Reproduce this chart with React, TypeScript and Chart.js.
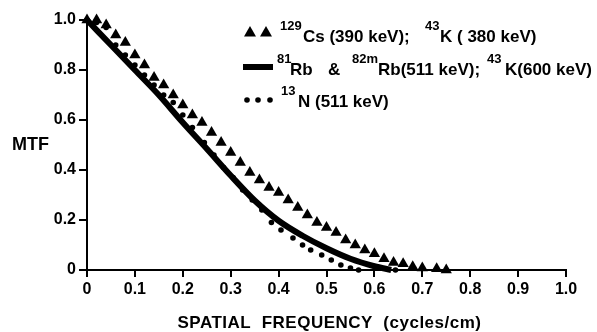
import React, { useEffect, useRef } from 'react';
import { Chart, registerables } from 'chart.js';

Chart.register(...registerables);

// ---- data ----
const xTickLabels = ['0', '0.1', '0.2', '0.3', '0.4', '0.5', '0.6', '0.7', '0.8', '0.9', '1.0'];
const yTickLabels = ['0', '0.2', '0.4', '0.6', '0.8', '1.0'];

// 129Cs (390 keV); 43K (380 keV) — triangles
const csX = [0, 0.02, 0.04, 0.06, 0.08, 0.10, 0.12, 0.14, 0.16, 0.18, 0.20, 0.22, 0.24, 0.26, 0.28, 0.30, 0.32, 0.34, 0.36, 0.38, 0.40, 0.42, 0.44, 0.46, 0.48, 0.50, 0.52, 0.54, 0.56, 0.58, 0.60, 0.62, 0.64, 0.66, 0.68, 0.70, 0.73, 0.75];
const csY = [1.0, 1.0, 0.98, 0.94, 0.91, 0.86, 0.82, 0.77, 0.74, 0.70, 0.66, 0.62, 0.59, 0.55, 0.51, 0.47, 0.43, 0.39, 0.36, 0.33, 0.31, 0.28, 0.25, 0.22, 0.19, 0.17, 0.15, 0.12, 0.10, 0.08, 0.065, 0.045, 0.03, 0.025, 0.013, 0.008, 0.005, 0];

// 81Rb & 82mRb (511 keV); 43K (600 keV) — solid line
const rbX = [0, 0.05, 0.10, 0.15, 0.20, 0.25, 0.30, 0.35, 0.40, 0.45, 0.50, 0.55, 0.60, 0.635];
const rbY = [1.0, 0.90, 0.80, 0.70, 0.59, 0.485, 0.378, 0.278, 0.197, 0.137, 0.087, 0.045, 0.015, 0.0];

// 13N (511 keV) — dots
const nX = [0, 0.02, 0.04, 0.06, 0.08, 0.10, 0.12, 0.14, 0.16, 0.18, 0.20, 0.22, 0.245, 0.265, 0.285, 0.305, 0.325, 0.345, 0.365, 0.385, 0.405, 0.43, 0.45, 0.467, 0.49, 0.51, 0.53, 0.55, 0.567, 0.644];
const nY = [1.0, 0.99, 0.97, 0.90, 0.86, 0.82, 0.78, 0.74, 0.70, 0.67, 0.62, 0.57, 0.51, 0.46, 0.41, 0.37, 0.32, 0.28, 0.24, 0.19, 0.16, 0.128, 0.10, 0.08, 0.06, 0.04, 0.02, 0.008, 0.0, 0.0];

const yTitle = 'MTF';
const xTitle = 'SPATIAL  FREQUENCY  (cycles/cm)';

type Seg = { t: string; sup?: boolean; dx: number };
const legendRows: Seg[][] = [
  [{ t: '129', sup: true, dx: 0 }, { t: 'Cs (390 keV);', dx: 23 }, { t: '43', sup: true, dx: 145 }, { t: 'K ( 380 keV)', dx: 160 }],
  [{ t: '81', sup: true, dx: -3 }, { t: 'Rb', dx: 10 }, { t: '&', dx: 48 }, { t: '82m', sup: true, dx: 72 }, { t: 'Rb(511 keV);', dx: 98 }, { t: '43', sup: true, dx: 207 }, { t: 'K(600 keV)', dx: 225 }],
  [{ t: '13', sup: true, dx: 1 }, { t: 'N (511 keV)', dx: 18 }],
];

const FONT = '"Liberation Sans", Arial, sans-serif';

const pts = (xs: number[], ys: number[]) => xs.map((x, i) => ({ x, y: ys[i] }));

const annotate = {
  id: 'annotate',
  afterDraw(chart: any) {
    const { ctx, chartArea: a } = chart;
    ctx.save();
    ctx.fillStyle = '#000';
    ctx.strokeStyle = '#000';

    // y title
    ctx.font = `bold 18px ${FONT}`;
    ctx.textAlign = 'left';
    ctx.textBaseline = 'middle';
    ctx.fillText(yTitle, 12, chart.scales.y.getPixelForValue(0.5));

    // x title
    ctx.textAlign = 'center';
    ctx.textBaseline = 'alphabetic';
    ctx.font = `bold 17px ${FONT}`;
    (ctx as any).letterSpacing = '0.5px';
    ctx.fillText(xTitle, (a.left + a.right) / 2 + 3, 328);
    (ctx as any).letterSpacing = '0px';

    // legend
    const ox = a.left + 193;
    const baselines = [a.top + 22, a.top + 55, a.top + 87];
    ctx.textAlign = 'left';
    legendRows.forEach((row, r) => {
      row.forEach((s) => {
        if (s.sup) {
          ctx.font = `bold 13px ${FONT}`;
          ctx.fillText(s.t, ox + s.dx, baselines[r] - 12);
        } else {
          ctx.font = `bold 17px ${FONT}`;
          ctx.fillText(s.t, ox + s.dx, baselines[r]);
        }
      });
    });

    // legend symbols
    const tri = (cx: number, cy: number) => {
      ctx.beginPath();
      ctx.moveTo(cx, cy - 6);
      ctx.lineTo(cx + 6, cy + 4.5);
      ctx.lineTo(cx - 6, cy + 4.5);
      ctx.closePath();
      ctx.fill();
    };
    tri(a.left + 163, a.top + 12);
    tri(a.left + 179, a.top + 12);

    ctx.lineWidth = 6;
    ctx.lineCap = 'butt';
    ctx.beginPath();
    ctx.moveTo(a.left + 156, a.top + 47);
    ctx.lineTo(a.left + 186, a.top + 47);
    ctx.stroke();

    [160, 171, 183].forEach((dx) => {
      ctx.beginPath();
      ctx.arc(a.left + dx, a.top + 80, 2.8, 0, Math.PI * 2);
      ctx.fill();
    });
    ctx.restore();
  },
};

export default function App() {
  const ref = useRef<HTMLCanvasElement | null>(null);

  useEffect(() => {
    document.body.style.margin = '0';
    const canvas = ref.current;
    if (!canvas) return;
    const chart = new Chart(canvas, {
      type: 'scatter',
      data: {
        datasets: [
          {
            label: 'Rb',
            data: pts(rbX, rbY),
            showLine: true,
            borderColor: '#000',
            borderWidth: 6,
            pointRadius: 0,
            cubicInterpolationMode: 'monotone',
            clip: false,
            order: 2,
          } as any,
          {
            label: 'N',
            data: pts(nX, nY),
            showLine: false,
            pointStyle: 'circle',
            pointRadius: 2.8,
            backgroundColor: '#000',
            borderColor: '#000',
            borderWidth: 0,
            clip: false,
            order: 1,
          },
          {
            label: 'Cs',
            data: pts(csX, csY),
            showLine: false,
            pointStyle: 'triangle',
            pointRadius: 6.5,
            backgroundColor: '#000',
            borderColor: '#000',
            borderWidth: 0,
            clip: false,
            order: 0,
          },
        ],
      },
      options: {
        animation: false,
        responsive: false,
        events: [],
        layout: { padding: { left: 0, right: 31, top: 20, bottom: 0 } },
        plugins: { legend: { display: false }, tooltip: { enabled: false } },
        scales: {
          x: {
            type: 'linear',
            min: 0,
            max: 1,
            afterFit: (s: any) => { s.height = 62; },
            ticks: {
              stepSize: 0.1,
              color: '#000',
              padding: 3,
              font: { family: FONT, size: 16, weight: 'bold' },
              callback: (_v: any, i: number) => xTickLabels[i],
            },
            grid: { drawOnChartArea: false, drawTicks: true, tickLength: 7, color: '#000', lineWidth: 2 },
            border: { display: true, color: '#000', width: 2 },
          },
          y: {
            type: 'linear',
            min: 0,
            max: 1,
            afterFit: (s: any) => { s.width = 87; },
            ticks: {
              stepSize: 0.2,
              color: '#000',
              padding: 3,
              font: { family: FONT, size: 16, weight: 'bold' },
              callback: (_v: any, i: number) => yTickLabels[i],
            },
            grid: { drawOnChartArea: false, drawTicks: true, tickLength: 8, color: '#000', lineWidth: 2 },
            border: { display: true, color: '#000', width: 2 },
          },
        },
      },
      plugins: [annotate],
    });
    return () => chart.destroy();
  }, []);

  return (
    <div style={{ width: 597, height: 332, background: '#fff' }}>
      <canvas ref={ref} width={597} height={332} style={{ display: 'block' }} />
    </div>
  );
}
